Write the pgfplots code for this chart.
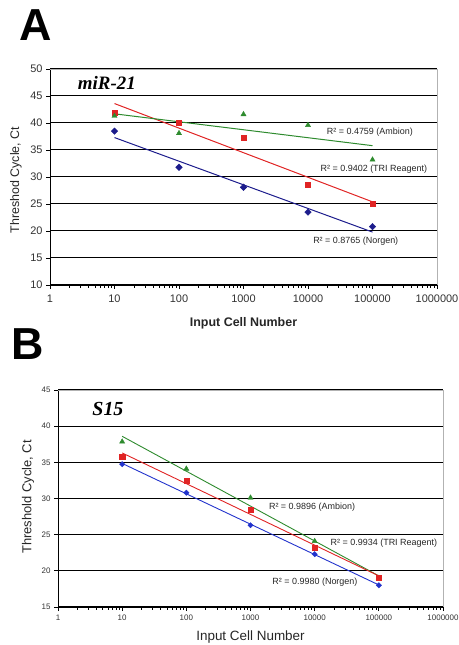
\documentclass[border=0pt]{standalone}
\usepackage{fontspec}
\setmainfont{Liberation Sans}
\newfontfamily\timesfont{Liberation Serif}
\usepackage{pgfplots}
\pgfplotsset{compat=1.18}

\definecolor{norgen}{HTML}{1C1C8C}
\definecolor{norgenB}{HTML}{2233CC}
\definecolor{tri}{HTML}{E02424}
\definecolor{ambion}{HTML}{2E8B2E}

\begin{document}
\begin{tikzpicture}
\path[use as bounding box] (0bp,0bp) rectangle (459bp,645bp);

% ---------- panel A ----------
\node[font=\fontsize{45}{48}\selectfont\bfseries] at (36bp,620bp) {A};
\begin{axis}[
  scale only axis,
  at={(50bp,360bp)}, anchor=south west, width=387bp, height=216bp,
  xmode=log, xmin=1, xmax=1000000,
  xtick={1,10,100,1000,10000,100000,1000000},
  xticklabels={1,10,100,1000,10000,100000,1000000},
  minor xtick={},
  ymin=10, ymax=50, ytick={10,15,...,50},
  axis lines*=left,
  axis line style={black, line width=0.9bp},
  tick align=outside, major tick length=4bp,
  tick style={black, line width=0.8bp},
  ymajorgrids, grid style={black, line width=1bp},
  /pgf/number format/assume math mode=true,
  tick label style={font=\fontsize{11}{12}\selectfont, text=black!80},
  xticklabel style={yshift=-2bp},
  clip=false,
]
\draw[gray!60, line width=0.8bp] (rel axis cs:0,1) -- (rel axis cs:1,1) -- (rel axis cs:1,0);
% Norgen
\addplot[only marks, mark=square*, mark size=2.3bp, mark options={rotate=45}, color=norgen] coordinates {
  (10,38.5) (100,31.8) (1000,28.1) (10000,23.5) (100000,20.8)};
\addplot[norgen, line width=1bp] coordinates {(10,37.3) (100000,19.8)};
% TRI Reagent
\addplot[only marks, mark=square*, mark size=2.4bp, color=tri] coordinates {
  (10,41.9) (100,40.1) (1000,37.3) (10000,28.6) (100000,25.0)};
\addplot[tri, line width=1bp] coordinates {(10,43.6) (100000,25.4)};
% Ambion
\addplot[only marks, mark=triangle*, mark size=3bp, color=ambion] coordinates {
  (10,41.3) (100,38.1) (1000,41.6) (10000,39.6) (100000,33.2)};
\addplot[ambion, line width=1bp] coordinates {(10,41.7) (100000,35.8)};
\node[font=\fontsize{19}{20}\selectfont\timesfont\bfseries\itshape] at (axis cs:7.6,47.4) {miR-21};
\node[font=\fontsize{9}{10}\selectfont, text=black!85] at (axis cs:91000,38.3) {R² = 0.4759 (Ambion)};
\node[font=\fontsize{9}{10}\selectfont, text=black!85] at (axis cs:105000,31.5) {R² = 0.9402 (TRI Reagent)};
\node[font=\fontsize{9}{10}\selectfont, text=black!85] at (axis cs:55000,18.1) {R² = 0.8765 (Norgen)};
\end{axis}
\node[font=\fontsize{12.5}{13}\selectfont\bfseries, text=black!85] at (243.5bp,322bp) {Input Cell Number};
\node[rotate=90, font=\fontsize{12.5}{13}\selectfont, text=black!85] at (16bp,465bp) {Threshod Cycle, Ct};

% ---------- panel B ----------
\node[font=\fontsize{45}{48}\selectfont\bfseries] at (28bp,301bp) {B};
\begin{axis}[
  scale only axis,
  at={(58bp,38bp)}, anchor=south west, width=385bp, height=217bp,
  xmode=log, xmin=1, xmax=1000000,
  xtick={1,10,100,1000,10000,100000,1000000},
  xticklabels={1,10,100,1000,10000,100000,1000000},
  minor xtick={},
  ymin=15, ymax=45, ytick={15,20,...,45},
  axis lines*=left,
  axis line style={black, line width=0.9bp},
  tick align=outside, major tick length=4bp,
  tick style={black, line width=0.8bp},
  ymajorgrids, grid style={black, line width=1bp},
  /pgf/number format/assume math mode=true,
  tick label style={font=\fontsize{8}{9}\selectfont, text=black!80},
  clip=false,
]
\draw[gray!60, line width=0.8bp] (rel axis cs:0,1) -- (rel axis cs:1,1) -- (rel axis cs:1,0);
% Ambion
\addplot[only marks, mark=triangle*, mark size=3bp, color=ambion] coordinates {
  (10,37.85) (100,34.1) (1000,30.1) (10000,24.1) (100000,19.0)};
\addplot[ambion, line width=0.9bp] coordinates {(10,38.6) (100000,19.3)};
% TRI Reagent
\addplot[only marks, mark=square*, mark size=2.6bp, color=tri] coordinates {
  (10,35.8) (100,32.45) (1000,28.5) (10000,23.2) (100000,19.1)};
\addplot[tri, line width=0.9bp] coordinates {(10,36.3) (100000,19.3)};
% Norgen
\addplot[only marks, mark=square*, mark size=1.9bp, mark options={rotate=45}, color=norgenB] coordinates {
  (10,34.75) (100,30.8) (1000,26.3) (10000,22.3) (100000,18.0)};
\addplot[norgenB, line width=0.9bp] coordinates {(10,34.85) (100000,18.05)};
\node[font=\fontsize{20}{21}\selectfont\timesfont\bfseries\itshape] at (axis cs:6.0,42.4) {S15};
\node[font=\fontsize{9}{10}\selectfont, text=black!85] at (axis cs:9100,28.8) {R² = 0.9896 (Ambion)};
\node[font=\fontsize{9}{10}\selectfont, text=black!85] at (axis cs:120000,23.85) {R² = 0.9934 (TRI Reagent)};
\node[font=\fontsize{9}{10}\selectfont, text=black!85] at (axis cs:10100,18.45) {R² = 0.9980 (Norgen)};
\end{axis}
\node[font=\fontsize{13.5}{14}\selectfont, text=black!85] at (250.5bp,8bp) {Input Cell Number};
\node[rotate=90, font=\fontsize{13}{14}\selectfont, text=black!85] at (28bp,148bp) {Threshold Cycle, Ct};
\end{tikzpicture}
\end{document}
